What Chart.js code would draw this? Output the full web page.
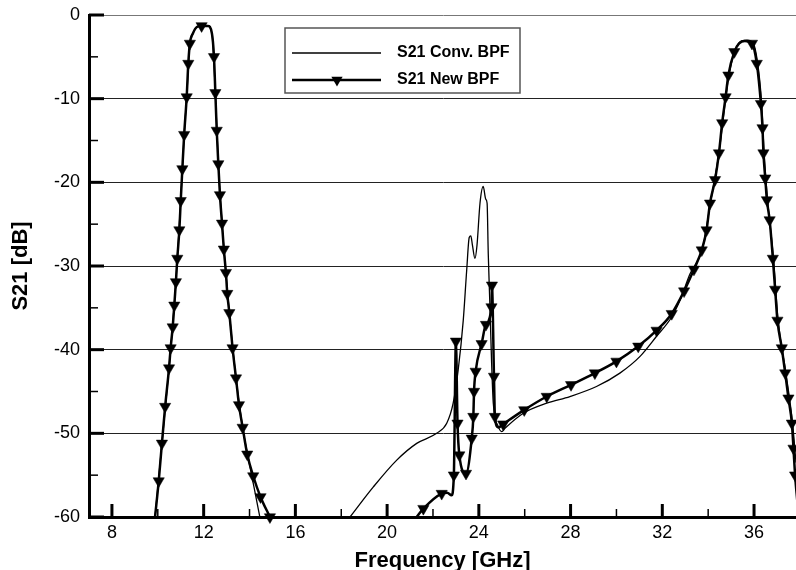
<!DOCTYPE html>
<html>
<head>
<meta charset="utf-8">
<script src="https://cdn.jsdelivr.net/npm/chart.js@4.4.0/dist/chart.umd.min.js"></script>
<style>
  body { margin: 0; background: #fff; overflow: hidden; }
  #wrap { position: relative; width: 796px; height: 570px; }
</style>
</head>
<body>
<div id="wrap"><canvas id="s21Chart"></canvas></div>
<script>
// Data S21 (GHz, dB)
const convFreq = [9.88, 10.18, 10.49, 10.79, 11.00, 11.15, 11.26, 11.40, 11.53, 11.72, 11.91, 12.18, 12.36, 12.51, 12.64, 12.80, 12.97, 13.12, 13.41, 13.70, 13.95, 14.20, 14.45,
  16.0,
  18.38, 19.40, 20.42, 21.29, 22.16, 22.60, 22.88, 23.10, 23.32, 23.47, 23.58, 23.65, 23.72, 23.83, 23.92, 24.05, 24.19, 24.30, 24.36, 24.41, 24.48, 24.55, 24.63, 24.85, 25.00, 25.14, 25.94, 26.96, 27.97, 29.13, 30.15, 31.03, 31.75, 32.41, 32.77, 33.20, 33.76, 34.11, 34.48, 34.78, 34.92, 35.18, 35.45, 35.70, 35.95, 36.15, 36.33, 36.44, 36.59, 36.85, 37.05, 37.39, 37.68, 37.83];
const convS21 = [-60, -51.2, -42.2, -31.9, -22.2, -14.3, -9.8, -3.4, -2.2, -1.4, -1.3, -1.3, -2.2, -9.3, -17.8, -24.9, -30.8, -35.6, -43.4, -49.3, -53.0, -56.5, -60,
  null,
  -60, -56.4, -53.2, -51.2, -50.0, -48.8, -46.4, -42.4, -36.5, -30.5, -26.6, -26.4, -27.5, -29.1, -27.5, -22.5, -20.5, -22.0, -22.5, -28.5, -34.5, -41.0, -46.4, -49.2, -49.8, -49.4, -47.6, -46.4, -45.6, -44.4, -42.8, -40.8, -38.4, -36.1, -34.1, -31.0, -27.8, -22.3, -16.3, -9.6, -7.0, -4.2, -3.1, -3.0, -3.3, -5.6, -10.5, -16.5, -22.1, -29.1, -36.5, -42.8, -48.8, -53.5];

const newFreq = [9.88, 10.04, 10.18, 10.32, 10.49, 10.56, 10.65, 10.72, 10.79, 10.85, 10.94, 11.00, 11.07, 11.15, 11.26, 11.33, 11.40, 11.53, 11.72, 11.91, 12.18, 12.36,
  12.45, 12.51, 12.57, 12.64, 12.71, 12.80, 12.88, 12.97, 13.03, 13.12, 13.26, 13.41, 13.54, 13.70, 13.90, 14.16, 14.48, 14.89,
  18.0,
  21.29, 21.58, 22.38, 22.62, 22.81, 22.91, 23.00, 23.07, 23.15, 23.44, 23.69, 23.76, 23.79, 23.86, 24.12, 24.31, 24.55, 24.57, 24.66, 24.70, 24.85, 25.06,
  25.98, 26.96, 28.02, 29.06, 30.00, 30.95, 31.75, 32.41, 32.95, 33.38, 33.72, 33.93, 34.08, 34.30, 34.47, 34.61, 34.76, 34.88, 35.14, 35.35, 35.60, 35.91,
  36.12, 36.30, 36.37, 36.41, 36.49, 36.56, 36.68, 36.82, 36.92, 37.02, 37.21, 37.36, 37.50, 37.65, 37.72, 37.79, 37.90];
const newS21 = [-60, -55.7, -51.2, -46.8, -42.2, -39.8, -37.3, -34.7, -31.9, -29.1, -25.7, -22.2, -18.4, -14.3, -9.8, -5.8, -3.4, -2.2, -1.4, -1.3, -1.3, -2.2,
  -5.0, -9.3, -13.8, -17.8, -21.5, -24.9, -28.0, -30.8, -33.3, -35.6, -39.8, -43.4, -46.6, -49.3, -52.5, -55.1, -57.6, -60,
  null,
  -60, -59.0, -57.2, -57.1, -57.4, -55.0, -39.0, -48.8, -52.6, -54.8, -50.6, -48.0, -45.0, -42.6, -39.3, -37.0, -34.9, -32.3, -43.2, -48.0, -49.3, -48.9,
  -47.2, -45.6, -44.2, -42.8, -41.4, -39.6, -37.7, -35.7, -33.0, -30.4, -28.1, -25.7, -22.5, -19.7, -16.5, -12.9, -9.8, -7.2, -4.4, -3.4, -3.1, -3.4,
  -5.8, -10.6, -13.5, -16.5, -19.5, -22.1, -24.5, -29.1, -32.8, -36.5, -39.8, -42.8, -45.8, -48.8, -51.8, -55.0, -58.5];

// Titik yang diberi simbol segitiga
const markFreq = [10.04, 10.18, 10.32, 10.49, 10.56, 10.65, 10.72, 10.79, 10.85, 10.94, 11.00, 11.07, 11.15, 11.26, 11.33, 11.40, 11.91,
  12.45, 12.51, 12.57, 12.64, 12.71, 12.80, 12.88, 12.97, 13.03, 13.12, 13.26, 13.41, 13.54, 13.70, 13.90, 14.16, 14.48, 14.89,
  21.58, 22.38, 22.91, 23.00, 23.07, 23.15, 23.44, 23.69, 23.76, 23.79, 23.86, 24.12, 24.31, 24.55, 24.57, 24.66, 24.70, 25.06,
  25.98, 26.96, 28.02, 29.06, 30.00, 30.95, 31.75, 32.41, 32.95, 33.38, 33.72, 33.93, 34.08, 34.30, 34.47, 34.61, 34.76, 34.88, 35.14, 35.91,
  36.12, 36.30, 36.37, 36.41, 36.49, 36.56, 36.68, 36.82, 36.92, 37.02, 37.21, 37.36, 37.50, 37.65, 37.72, 37.79];
const markS21 = [-55.7, -51.2, -46.8, -42.2, -39.8, -37.3, -34.7, -31.9, -29.1, -25.7, -22.2, -18.4, -14.3, -9.8, -5.8, -3.4, -1.3,
  -5.0, -9.3, -13.8, -17.8, -21.5, -24.9, -28.0, -30.8, -33.3, -35.6, -39.8, -43.4, -46.6, -49.3, -52.5, -55.1, -57.6, -60,
  -59.0, -57.2, -55.0, -39.0, -48.8, -52.6, -54.8, -50.6, -48.0, -45.0, -42.6, -39.3, -37.0, -34.9, -32.3, -43.2, -48.0, -48.9,
  -47.2, -45.6, -44.2, -42.8, -41.4, -39.6, -37.7, -35.7, -33.0, -30.4, -28.1, -25.7, -22.5, -19.7, -16.5, -12.9, -9.8, -7.2, -4.4, -3.4,
  -5.8, -10.6, -13.5, -16.5, -19.5, -22.1, -24.5, -29.1, -32.8, -36.5, -39.8, -42.8, -45.8, -48.8, -51.8, -55.0];

const xMajorTicks = [8, 12, 16, 20, 24, 28, 32, 36];
const xMinorTicks = [10, 14, 18, 22, 26, 30, 34];
const yMajorTicks = [-60, -50, -40, -30, -20, -10, 0];
const yMinorTicks = [-55, -45, -35, -25, -15, -5];
const legendLabels = ['S21 Conv. BPF', 'S21 New BPF'];

const toPoints = (xs, ys) => xs.map((x, i) => ({ x: x, y: ys[i] }));

function drawTriangle(c, x, y, r) {
  c.beginPath();
  c.moveTo(x - r * 0.866, y - r * 0.5);
  c.lineTo(x + r * 0.866, y - r * 0.5);
  c.lineTo(x, y + r);
  c.closePath();
  c.fill();
}

// Tick ke dalam + legenda di dalam area plot
const extrasPlugin = {
  id: 'extras',
  afterDraw(chart) {
    const c = chart.ctx;
    const area = chart.chartArea;
    const xs = chart.scales.x, ys = chart.scales.y;
    c.save();
    c.strokeStyle = '#000';
    const tick = (x1, y1, x2, y2, w) => {
      c.lineWidth = w;
      c.beginPath(); c.moveTo(x1, y1); c.lineTo(x2, y2); c.stroke();
    };
    yMajorTicks.forEach(v => { const y = ys.getPixelForValue(v); tick(area.left, y, area.left + 15, y, 3); });
    yMinorTicks.forEach(v => { const y = ys.getPixelForValue(v); tick(area.left, y, area.left + 9, y, 1.5); });
    xMajorTicks.forEach(v => { const x = xs.getPixelForValue(v); tick(x, area.bottom, x, area.bottom - 13, 3); });
    xMinorTicks.forEach(v => { const x = xs.getPixelForValue(v); tick(x, area.bottom, x, area.bottom - 8, 1.5); });

    // legenda
    c.fillStyle = '#fff';
    c.fillRect(285, 28, 235, 65);
    c.strokeStyle = '#555';
    c.lineWidth = 1.5;
    c.strokeRect(285, 28, 235, 65);
    c.strokeStyle = '#000';
    tick(292, 53, 381, 53, 1.3);
    tick(292, 80, 381, 80, 2.5);
    c.fillStyle = '#000';
    drawTriangle(c, 337, 80, 6.5);
    c.font = 'bold 16px "Liberation Sans", Arial, sans-serif';
    c.textBaseline = 'middle';
    c.textAlign = 'left';
    c.fillText(legendLabels[0], 397, 53);
    c.fillText(legendLabels[1], 397, 80);
    c.restore();
  }
};

const ctx = document.getElementById('s21Chart').getContext('2d');
const s21Chart = new Chart(ctx, {
  type: 'line',
  data: {
    datasets: [
      {
        label: legendLabels[0],
        data: toPoints(convFreq, convS21),
        borderColor: '#000',
        borderWidth: 1.3,
        pointRadius: 0,
        cubicInterpolationMode: 'monotone',
        spanGaps: false
      },
      {
        label: legendLabels[1],
        data: toPoints(newFreq, newS21),
        borderColor: '#000',
        borderWidth: 2.5,
        pointRadius: 0,
        cubicInterpolationMode: 'monotone',
        spanGaps: false
      },
      {
        label: 'markers',
        data: toPoints(markFreq, markS21),
        showLine: false,
        pointStyle: 'triangle',
        rotation: 180,
        pointRadius: 6.5,
        pointBackgroundColor: '#000',
        pointBorderColor: '#000',
        pointBorderWidth: 0.5,
        clip: false
      }
    ]
  },
  options: {
    responsive: true,
    maintainAspectRatio: false,
    animation: false,
    events: [],
    layout: { autoPadding: false, padding: { top: 15, right: 0, left: 0, bottom: 0 } },
    plugins: {
      legend: { display: false },
      tooltip: { enabled: false }
    },
    scales: {
      x: {
        type: 'linear',
        min: 7,
        max: 37.83,
        afterBuildTicks: (scale) => { scale.ticks = xMajorTicks.map(v => ({ value: v })); },
        afterFit: (scale) => { scale.height = 53; scale.paddingLeft = 0; scale.paddingRight = 0; },
        grid: { display: false, drawTicks: false },
        border: { display: true, color: '#000', width: 3 },
        ticks: {
          color: '#000',
          padding: 5,
          maxRotation: 0,
          font: { family: '"Liberation Sans", Arial, sans-serif', size: 18 },
          callback: (v) => String(v)
        },
        title: {
          display: true,
          text: 'Frequency [GHz]',
          color: '#000',
          font: { family: '"Liberation Sans", Arial, sans-serif', size: 22, weight: 'bold', lineHeight: 0.8 },
          padding: { top: 0, bottom: 0 }
        }
      },
      y: {
        type: 'linear',
        min: -60,
        max: 0,
        afterFit: (scale) => { scale.width = 89; scale.paddingTop = 0; scale.paddingBottom = 0; },
        grid: {
          drawTicks: false,
          color: (c) => (c.tick && c.tick.value === 0 ? '#777' : '#222'),
          lineWidth: 1
        },
        border: { display: true, color: '#000', width: 3 },
        ticks: {
          stepSize: 10,
          color: '#000',
          padding: 9,
          font: { family: '"Liberation Sans", Arial, sans-serif', size: 18 }
        },
        title: {
          display: true,
          text: 'S21 [dB]',
          color: '#000',
          font: { family: '"Liberation Sans", Arial, sans-serif', size: 22, weight: 'bold', lineHeight: 0.8 },
          padding: { top: 12, bottom: 0 }
        }
      }
    }
  },
  plugins: [extrasPlugin]
});
</script>
</body>
</html>
